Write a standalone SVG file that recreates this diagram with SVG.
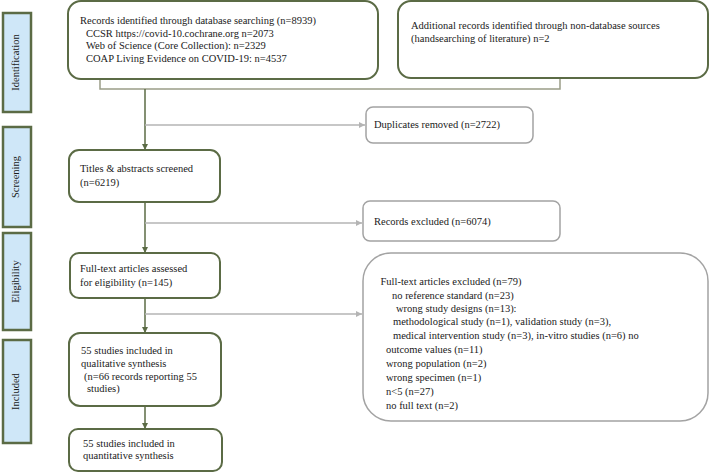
<svg xmlns="http://www.w3.org/2000/svg" width="709" height="472" viewBox="0 0 709 472">
<defs>
<style>
text{font-family:"Liberation Serif","Times New Roman",serif;font-size:10.5px;fill:#1a1a1a;dominant-baseline:middle}
.side rect{fill:#cfe7f8;stroke:#5b6b45;stroke-width:2.5}
.gbox{fill:#fff;stroke:#5b6b45;stroke-width:2}
.ybox{fill:#fff;stroke:#a3a3a3;stroke-width:1.5}
.gline{fill:none;stroke:#5b6b45;stroke-width:1.5}
.mline{fill:none;stroke:#9a9d88;stroke-width:1.5}
.yline{fill:none;stroke:#b4b4b4;stroke-width:1.3}
</style>
<marker id="ga" viewBox="0 0 10 10" refX="10" refY="5" markerWidth="6" markerHeight="6" markerUnits="userSpaceOnUse" orient="auto"><path d="M0,0L10,5L0,10z" fill="#5b6b45"/></marker>
<marker id="ya" viewBox="0 0 10 10" refX="10" refY="5" markerWidth="6" markerHeight="6" markerUnits="userSpaceOnUse" orient="auto"><path d="M0,0L10,5L0,10z" fill="#b4b4b4"/></marker>
</defs>
<rect width="709" height="472" fill="#fff"/>

<g id="side-identification" class="side"><rect x="3" y="13" width="28" height="99"/><text transform="translate(17,62.5) rotate(-90)" text-anchor="middle">Identification</text></g>
<g id="side-screening" class="side"><rect x="3" y="127" width="28" height="100"/><text transform="translate(17,177) rotate(-90)" text-anchor="middle">Screening</text></g>
<g id="side-eligibility" class="side"><rect x="3" y="233" width="28" height="97"/><text transform="translate(17,281.5) rotate(-90)" text-anchor="middle">Eligibility</text></g>
<g id="side-included" class="side"><rect x="3" y="340" width="28" height="103"/><text transform="translate(17,391.5) rotate(-90)" text-anchor="middle">Included</text></g>

<g id="connectors">
<path class="mline" d="M100,79V89H560V78"/>
<path class="gline" d="M145,89V150" marker-end="url(#ga)"/>
<path class="yline" d="M145,125H365" marker-end="url(#ya)"/>
<path class="gline" d="M145,202V253" marker-end="url(#ga)"/>
<path class="yline" d="M145,223H362" marker-end="url(#ya)"/>
<path class="gline" d="M145,298V333" marker-end="url(#ga)"/>
<path class="yline" d="M145,314H362" marker-end="url(#ya)"/>
<path class="gline" d="M145,406V429" marker-end="url(#ga)"/>
</g>

<g id="records-db"><rect class="gbox" x="68" y="1" width="310" height="78" rx="13"/>
<text x="80" y="22">Records identified through database searching (n=8939)</text>
<text x="86" y="34.5">CCSR https://covid-10.cochrane.org n=2073</text>
<text x="86" y="47">Web of Science (Core Collection): n=2329</text>
<text x="86" y="59.5">COAP Living Evidence on COVID-19: n=4537</text></g>

<g id="records-other"><rect class="gbox" x="398" y="1" width="310" height="77" rx="13"/>
<text x="411" y="27">Additional records identified through non-database sources</text>
<text x="411" y="39.5">(handsearching of literature) n=2</text></g>

<g id="duplicates"><rect class="ybox" x="366" y="107" width="167" height="36" rx="7"/>
<text x="374" y="125.5">Duplicates removed (n=2722)</text></g>

<g id="screened"><rect class="gbox" x="69" y="150" width="151" height="52" rx="10"/>
<text x="80" y="170">Titles &amp; abstracts screened</text>
<text x="80" y="184">(n=6219)</text></g>

<g id="excluded"><rect class="ybox" x="363" y="201" width="197" height="40" rx="7"/>
<text x="374" y="223">Records excluded (n=6074)</text></g>

<g id="eligibility"><rect class="gbox" x="70" y="253" width="150" height="45" rx="9"/>
<text x="80" y="270">Full-text articles assessed</text>
<text x="80" y="284">for eligibility (n=145)</text></g>

<g id="fulltext-excluded"><rect class="ybox" x="363" y="253" width="345" height="168" rx="28"/>
<text x="380.5" y="283">Full-text articles excluded (n=79)</text>
<text x="392" y="296.8">no reference standard (n=23)</text>
<text x="396" y="309.5">wrong study designs (n=13):</text>
<text x="393" y="322.5">methodological study (n=1), validation study (n=3),</text>
<text x="393" y="337">medical intervention study (n=3), in-vitro studies (n=6) no</text>
<text x="386" y="351">outcome values (n=11)</text>
<text x="386" y="365">wrong population (n=2)</text>
<text x="386" y="379">wrong specimen (n=1)</text>
<text x="386" y="393">n&lt;5 (n=27)</text>
<text x="386" y="407">no full text (n=2)</text></g>

<g id="qualitative"><rect class="gbox" x="69" y="333" width="152" height="73" rx="11"/>
<text x="81" y="352">55 studies included in</text>
<text x="81" y="364.5">qualitative synthesis</text>
<text x="84" y="377.5">(n=66 records reporting 55</text>
<text x="87" y="390">studies)</text></g>

<g id="quantitative"><rect class="gbox" x="69" y="429" width="153" height="42" rx="9"/>
<text x="83" y="445">55 studies included in</text>
<text x="83" y="457">quantitative synthesis</text></g>
</svg>
